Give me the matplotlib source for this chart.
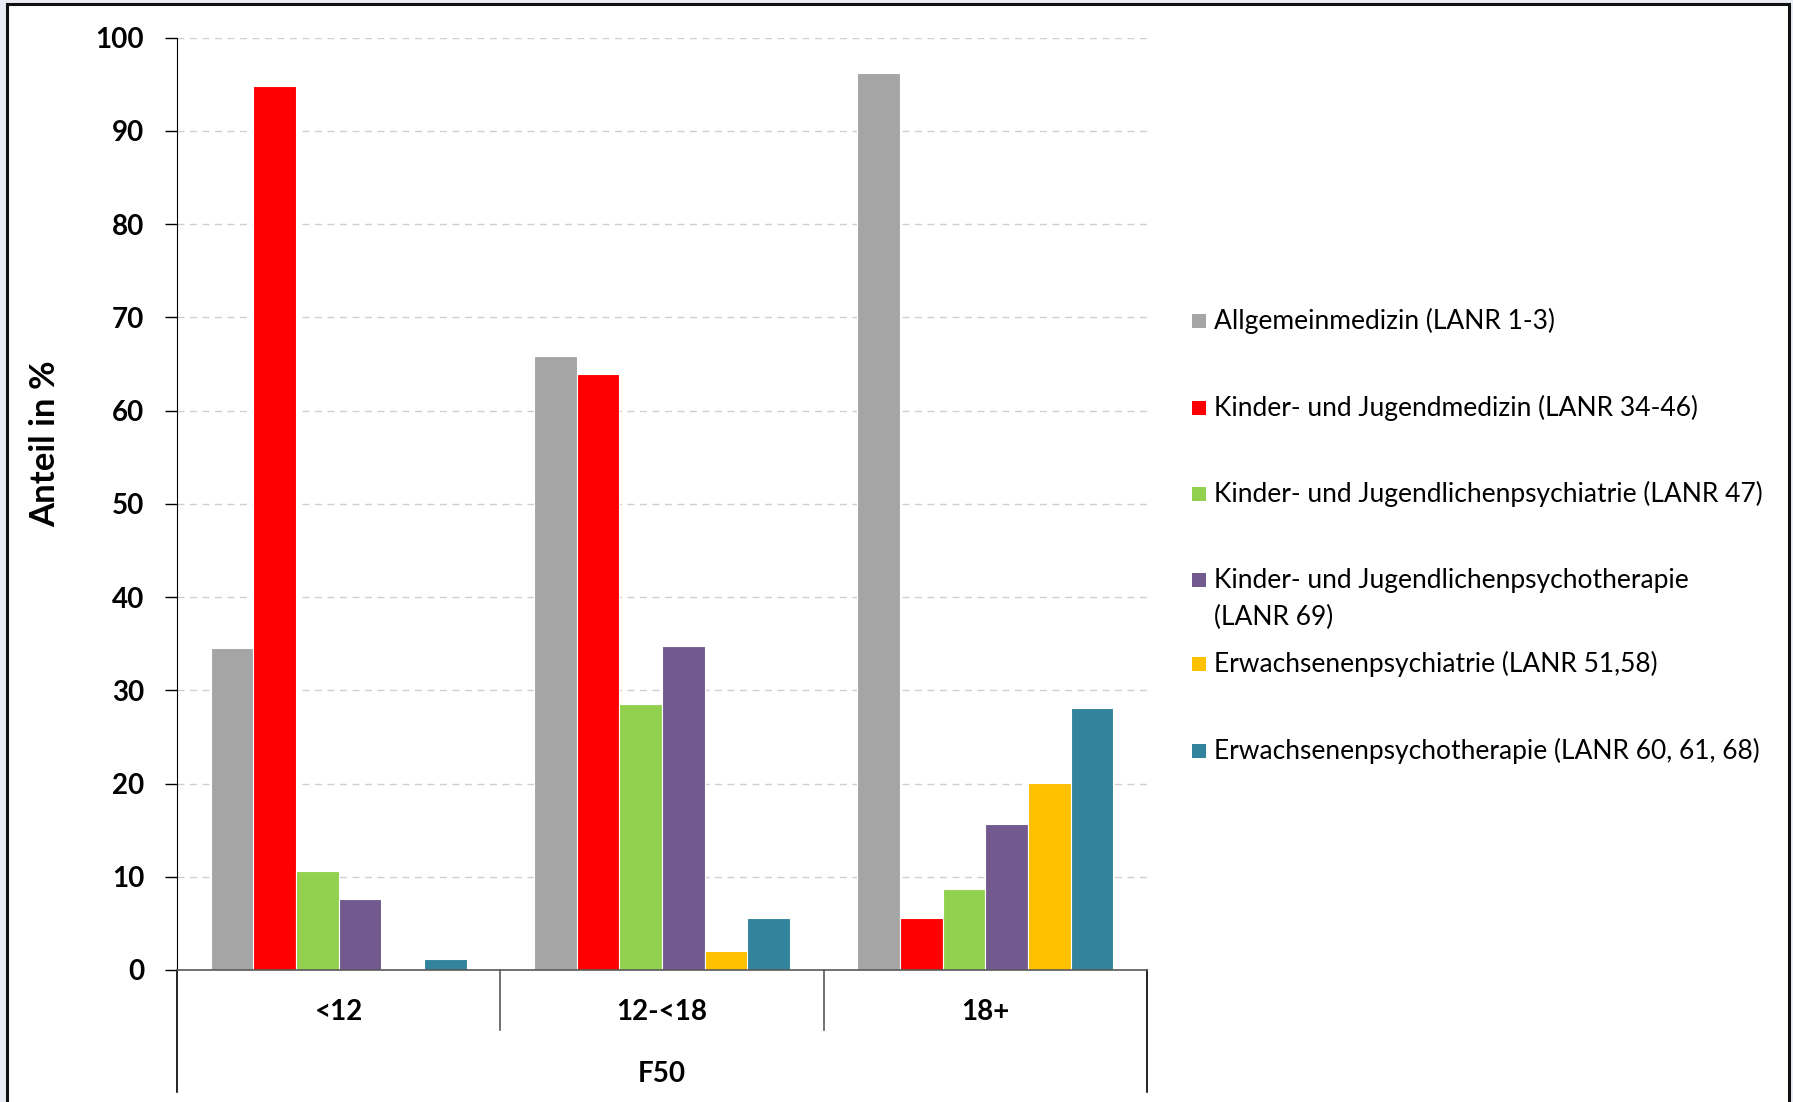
import numpy as np
import matplotlib
matplotlib.use("Agg")
import matplotlib.pyplot as plt
from matplotlib.patches import Rectangle

# shares per age group (F50), in percent
age_groups = ["<12", "12-<18", "18+"]
group_title = "F50"
specialties = [
    "Allgemeinmedizin (LANR 1-3)",
    "Kinder- und Jugendmedizin (LANR 34-46)",
    "Kinder- und Jugendlichenpsychiatrie (LANR 47)",
    "Kinder- und Jugendlichenpsychotherapie\n(LANR 69)",
    "Erwachsenenpsychiatrie (LANR 51,58)",
    "Erwachsenenpsychotherapie (LANR 60, 61, 68)",
]
allgemein = [34.5, 65.9, 96.2]
kinder_med = [94.8, 63.9, 5.6]
kjp_psychiatrie = [10.6, 28.5, 8.7]
kjp_psychotherapie = [7.6, 34.7, 15.7]
erw_psychiatrie = [0.0, 2.0, 20.1]
erw_psychotherapie = [1.2, 5.6, 28.1]
series = [allgemein, kinder_med, kjp_psychiatrie, kjp_psychotherapie,
          erw_psychiatrie, erw_psychotherapie]
y_ticks = list(range(0, 101, 10))
y_label = "Anteil in %"

colors = ["#A5A5A5", "#FF0000", "#92D050", "#725A8F", "#FFC000", "#31849B"]

plt.rcParams["font.family"] = ["Lato", "DejaVu Sans"]

W, H = 1793, 1102
fig = plt.figure(figsize=(W / 100, H / 100), dpi=100)
fig.patch.set_facecolor("#E9ECF5")

# white card with dark frame
fig.patches.append(Rectangle((7 / W, -0.02), (1789 - 7) / W, 1 - 4 / H + 0.02,
                             transform=fig.transFigure, facecolor="white",
                             edgecolor="#111111", linewidth=2.2, zorder=-5))

ax = fig.add_axes([177 / W, (H - 970) / H, (1147 - 177) / W, (970 - 37.7) / H])
ax.set_facecolor("none")
ax.set_zorder(2)

x = np.arange(len(age_groups))
bw = 0.132
for i, (vals, col) in enumerate(zip(series, colors)):
    ax.bar(x + (i - 2.5) * bw, vals, width=bw, color=col,
           edgecolor="white", linewidth=0.8, zorder=2)

ax.set_xlim(-0.5, 2.5)
ax.set_ylim(0, 100)
ax.set_yticks(y_ticks)
ax.set_yticklabels([str(t) for t in y_ticks], fontsize=20, fontweight="bold")
ax.tick_params(axis="y", length=8.6, width=1, pad=15, color="black")
ax.set_xticks([])

ax.set_axisbelow(True)
ax.yaxis.grid(True, color="#CFCFCF", linewidth=1, linestyle=(0, (5, 4)))

for side in ["top", "right"]:
    ax.spines[side].set_visible(False)
ax.spines["left"].set_color("black")
ax.spines["bottom"].set_color("#595959")
ax.spines["bottom"].set_linewidth(1.2)

# category axis: group dividers and labels below the plot
px = 100 / (970 - 37.7)  # data units per pixel
sep_low = -(1030 - 970) * px
outer_low = -(1092 - 970) * px
for xs in [0.5, 1.5]:
    ax.plot([xs, xs], [0, sep_low], color="#595959", linewidth=1.2, clip_on=False)
for xs in [-0.5, 2.5]:
    ax.plot([xs, xs], [0, outer_low], color="black", linewidth=1.2, clip_on=False)

for xi, lab in zip(x, age_groups):
    ax.text(xi, -(1012 - 970) * px, lab, ha="center", va="center",
            fontsize=20, fontweight="bold")
ax.text(1.0, -(1074 - 970) * px, group_title, ha="center", va="center",
        fontsize=20, fontweight="bold")

fig.text(45 / W, 1 - 444 / H, y_label, rotation=90, ha="center", va="center",
         fontsize=25, fontweight="bold")

# legend
legend_y = [321, 408, 494, 580, 664, 751]
for lab, col, yy in zip(specialties, colors, legend_y):
    fig.patches.append(Rectangle((1192 / W, 1 - (yy + 7) / H), 14 / W, 14 / H,
                                 transform=fig.transFigure, facecolor=col,
                                 edgecolor="none"))
    text_y = yy + 19 if "\n" in lab else yy
    fig.text(1214 / W, 1 - text_y / H, lab, ha="left", va="center",
             fontsize=19, linespacing=1.58, transform=fig.transFigure)

fig.savefig("out.png", dpi=100, facecolor=fig.get_facecolor())
